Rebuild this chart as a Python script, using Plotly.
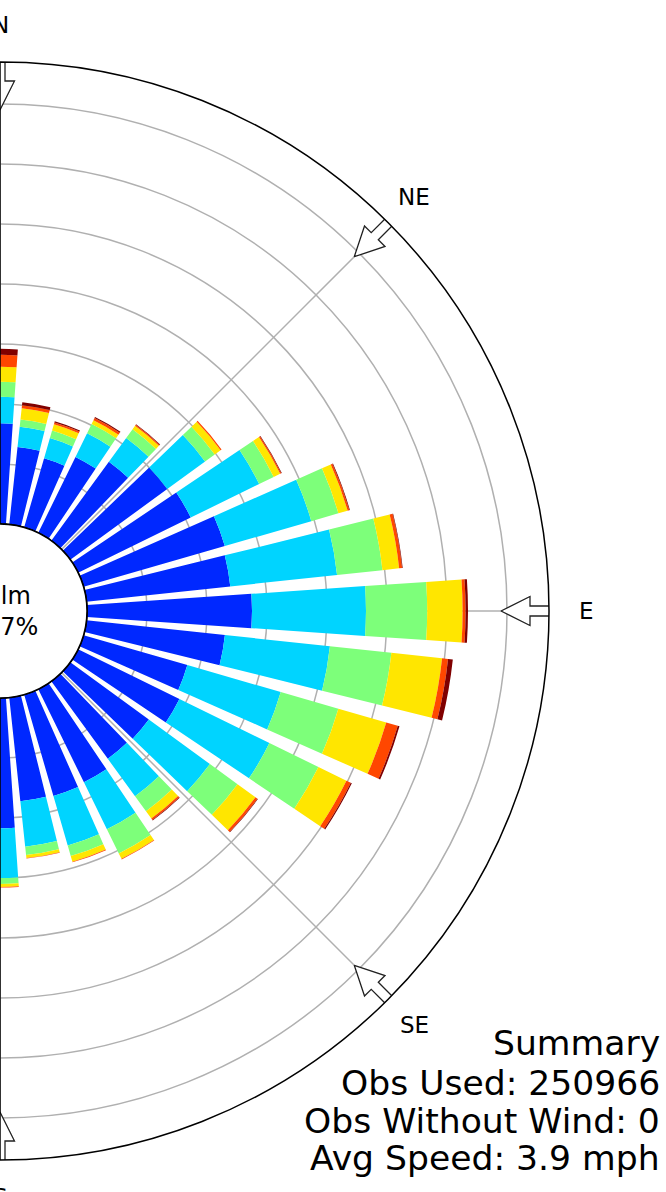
import math
import plotly.graph_objects as go

# ---------------- data ----------------
directions = [0, 10, 20, 30, 40, 50, 60, 70, 80, 90, 100, 110, 120, 130, 140, 150, 160, 170, 180]
speed_bins = ["2 - 5 mph", "5 - 7 mph", "7 - 10 mph", "10 - 15 mph", "15 - 20 mph", "20+ mph"]
bin_colors = ["#0028ff", "#00d4ff", "#7dff7a", "#ffe600", "#ff4700", "#800000"]

# cumulative outer edge (percent frequency) of each speed bin, per direction
edge_bin1 = [1.68, 1.30, 1.20, 1.41, 1.63, 2.00, 2.09, 2.45, 2.41, 2.75, 2.32, 1.80, 1.88, 1.62, 1.60, 1.73, 1.76, 1.74, 2.17]
edge_bin2 = [2.12, 1.64, 1.55, 1.85, 2.12, 2.78, 3.36, 3.95, 4.20, 4.65, 4.08, 3.42, 3.55, 2.88, 2.37, 2.60, 2.62, 2.50, 3.00]
edge_bin3 = [2.37, 1.76, 1.68, 2.02, 2.30, 2.98, 3.63, 4.42, 4.96, 5.67, 5.11, 4.42, 4.46, 3.45, 2.68, 3.05, 2.80, 2.64, 3.10]
edge_bin4 = [2.62, 1.95, 1.79, 2.09, 2.37, 3.10, 3.75, 4.58, 5.24, 6.26, 5.96, 5.25, 4.98, 3.82, 2.83, 3.15, 2.90, 2.69, 3.15]
edge_bin5 = [2.82, 2.00, 1.82, 2.13, 2.39, 3.12, 3.77, 4.61, 5.29, 6.31, 6.06, 5.45, 5.06, 3.86, 2.86, 3.16, 2.91, 2.70, 3.16]
edge_bin6 = [2.92, 2.05, 1.84, 2.15, 2.40, 3.12, 3.78, 4.62, 5.30, 6.35, 6.14, 5.48, 5.08, 3.87, 2.87, 3.16, 2.91, 2.70, 3.16]
bin_edges = [edge_bin1, edge_bin2, edge_bin3, edge_bin4, edge_bin5, edge_bin6]

ring_values = [1, 2, 3, 4, 5, 6, 7]
radial_max = 7.7
compass_dirs = [0, 45, 90, 135, 180]
compass_labels = ["N", "NE", "E", "SE", "S"]
calm_text = "Calm<br>14.7%"
summary_lines = ["Summary", "Obs Used: 250966", "Obs Without Wind: 0", "Avg Speed: 3.9 mph"]

# ---------------- figure ----------------
W, H = 666, 1192
CALM_PX = 87.0          # radius of calm circle (px)
OUTER_PX = 549.0        # radius of outer circle (px)
PX_PER_UNIT = (OUTER_PX - CALM_PX) / radial_max
CX, CY = 0.0, 611.0     # centre (px from top-left)
LABEL_PX = 586.0
FONT = "DejaVu Sans"


def px_to_r(px):
    return (px - CALM_PX) / PX_PER_UNIT


fig = go.Figure()

# stacked wind-rose bars
prev = [0.0] * len(directions)
for name, color, edges in zip(speed_bins, bin_colors, bin_edges):
    freq = [max(e - p, 0.0) for e, p in zip(edges, prev)]
    fig.add_trace(go.Barpolar(
        r=freq, theta=directions, width=7.8, name=name,
        marker=dict(color=color, line=dict(width=0)),
        showlegend=False, hoverinfo="skip",
    ))
    prev = edges

# calm circle outline
circ_theta = [i * 0.5 for i in range(0, 361)]
fig.add_trace(go.Scatterpolar(
    r=[0] * len(circ_theta), theta=circ_theta, mode="lines",
    line=dict(color="black", width=1.8), showlegend=False, hoverinfo="skip",
))

# direction arrows (decoration)
arrow_outline = [(554, -5), (530, -5), (530, -14.5), (501, 0), (530, 14.5), (530, 5), (554, 5), (554, -5)]
for d in compass_dirs:
    rs, ths = [], []
    for a, p in arrow_outline:
        rs.append(px_to_r(math.hypot(a, p)))
        ths.append(d + math.degrees(math.atan2(p, a)))
    fig.add_trace(go.Scatterpolar(
        r=rs, theta=ths, mode="lines", fill="toself", fillcolor="white",
        line=dict(color="#222222", width=1.3), cliponaxis=False,
        showlegend=False, hoverinfo="skip",
    ))

fig.update_layout(
    width=W, height=H, autosize=False,
    margin=dict(l=0, r=0, t=0, b=0),
    paper_bgcolor="white",
    polar=dict(
        domain=dict(x=[0, OUTER_PX / W], y=[(H - CY - OUTER_PX) / H, (H - CY + OUTER_PX) / H]),
        sector=[-90, 90],
        hole=CALM_PX / OUTER_PX,
        bgcolor="white",
        barmode="stack",
        radialaxis=dict(
            range=[0, radial_max], tickvals=ring_values, showticklabels=False,
            ticks="", showline=False, showgrid=True,
            gridcolor="#b0b0b0", gridwidth=1.5, layer="above traces",
        ),
        angularaxis=dict(
            rotation=90, direction="clockwise",
            tickvals=[0, 45, 90, 135, 180, 225, 270, 315],
            showticklabels=False, ticks="",
            showgrid=True, gridcolor="#b0b0b0", gridwidth=1.5,
            showline=True, linecolor="black", linewidth=1.5,
            layer="above traces",
        ),
    ),
)

annotations = [dict(
    x=CX / W, y=1 - CY / H, xref="paper", yref="paper", text=calm_text,
    showarrow=False, xanchor="center", yanchor="middle", align="center",
    font=dict(family=FONT, size=24, color="black"),
)]
# compass labels just outside the outer ring
for d, lab in zip(compass_dirs, compass_labels):
    px = CX + LABEL_PX * math.sin(math.radians(d))
    py = CY - LABEL_PX * math.cos(math.radians(d))
    annotations.append(dict(
        x=px / W, y=1 - py / H, xref="paper", yref="paper", text=lab,
        showarrow=False, xanchor="center", yanchor="middle",
        font=dict(family=FONT, size=23, color="black"),
    ))
summary_y = [1043, 1083, 1121, 1158]
for line, yy in zip(summary_lines, summary_y):
    annotations.append(dict(
        x=662 / W, y=1 - yy / H, xref="paper", yref="paper", text=line,
        showarrow=False, xanchor="right", yanchor="middle", align="right",
        font=dict(family=FONT, size=34.6, color="black"),
    ))
fig.update_layout(annotations=annotations)

fig.write_html(
    "out.html",
    config={"displayModeBar": False, "staticPlot": True},
    post_script="document.body.style.margin='0';document.body.style.overflow='hidden';",
)
